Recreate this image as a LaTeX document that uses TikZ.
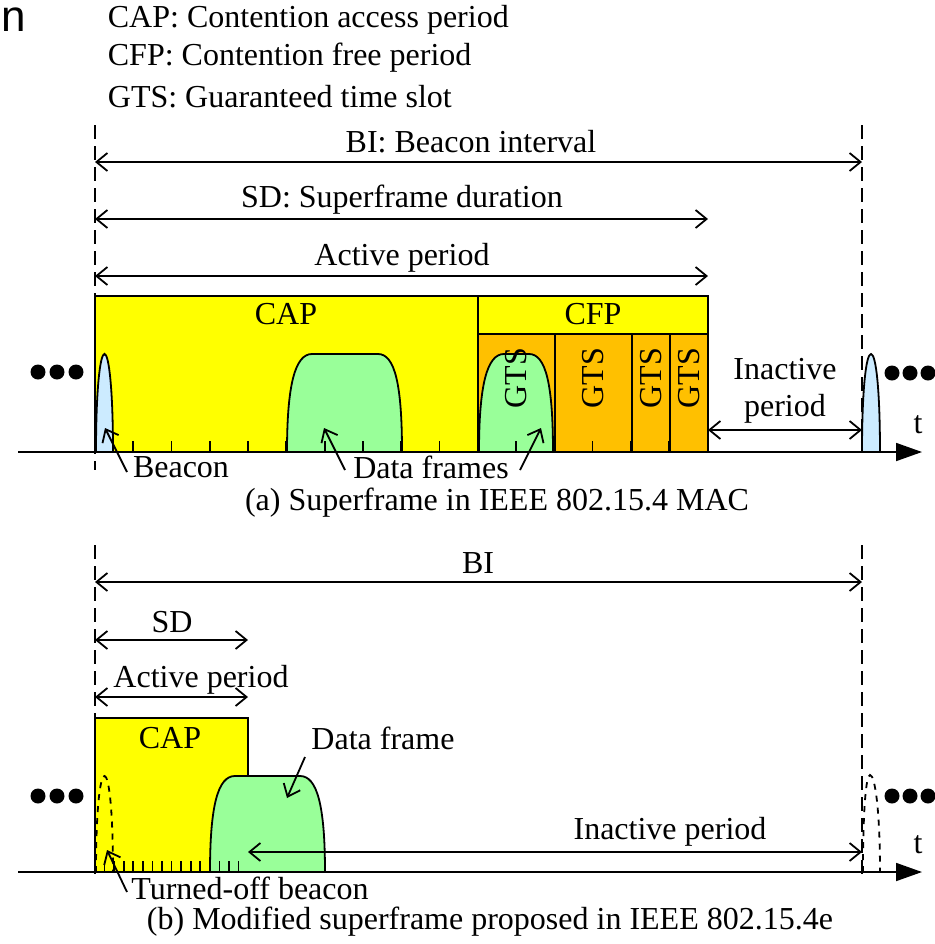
\documentclass[tikz,border=0pt]{standalone}
\usepackage{fontspec}
\setmainfont{Liberation Serif}
\newfontfamily\sansfont{Liberation Sans}
\usetikzlibrary{arrows.meta}

\definecolor{capyellow}{HTML}{FFFF00}
\definecolor{gtsorange}{HTML}{FFC000}
\definecolor{framegreen}{HTML}{99FF99}
\definecolor{beaconblue}{HTML}{CCEBFF}

\tikzset{
  span/.style={{Straight Barb[length=5.5pt,width=9pt]}-{Straight Barb[length=5.5pt,width=9pt]}},
  pointer/.style={-{Straight Barb[length=5.5pt,width=9pt]}},
  timeaxis/.style={-{Triangle[length=13pt,width=9pt]}},
  marker/.style={dash pattern=on 7pt off 3.5pt},
  lbl/.style={inner sep=0pt},
  dot/.style={circle, fill=black, inner sep=0pt, minimum size=7.5pt},
}

\begin{document}
\begin{tikzpicture}[x=0.5pt, y=-0.5pt, font=\fontsize{16}{18.5}\selectfont, line width=0.9pt]
\useasboundingbox (0,0) rectangle (935,944);

% stray letter and definitions
\node[lbl, anchor=west, font=\sansfont\fontsize{22}{24}\selectfont] (stray) at (1,20) {n};
\node[lbl, anchor=west] (defcap) at (107,20) {CAP: Contention access period};
\node[lbl, anchor=west] (defcfp) at (107,58) {CFP: Contention free period};
\node[lbl, anchor=west] (defgts) at (107,97) {GTS: Guaranteed time slot};

%%%%%%%%%% (a) %%%%%%%%%%
% period bars
\coordinate (bistart) at (95,162);   \coordinate (biend) at (862,162);
\coordinate (sdstart) at (95,219);   \coordinate (sdend) at (708,219);
\coordinate (apstart) at (95,276);   \coordinate (apend) at (708,276);
\draw[span] (bistart) -- (biend);
\draw[span] (sdstart) -- (sdend);
\draw[span] (apstart) -- (apend);
\node[lbl] (bilbl) at (471,142) {BI: Beacon interval};
\node[lbl] (sdlbl) at (402,200) {SD: Superframe duration};
\node[lbl] (aplbl) at (402,258) {Active period};

% superframe blocks
\draw[fill=capyellow] (95,296) rectangle (478,452);
\draw[fill=capyellow] (478,296) rectangle (708,334);
\draw[fill=gtsorange] (478,334) rectangle (555,452);
\draw[fill=gtsorange] (555,334) rectangle (632,452);
\draw[fill=gtsorange] (632,334) rectangle (670,452);
\draw[fill=gtsorange] (670,334) rectangle (708,452);
\node[lbl] (caplbl) at (286,314) {CAP};
\node[lbl] (cfplbl) at (593,314) {CFP};

% frames
\draw[fill=framegreen] (287,452) .. controls (287,385) and (295,354) .. (312,354) -- (378,354)
  .. controls (395,354) and (402,385) .. (402,452);
\draw[fill=framegreen] (479,452) .. controls (479,385) and (487,354) .. (504,354) -- (529,354)
  .. controls (546,354) and (553,385) .. (553,452);
\draw[fill=beaconblue] (96,452) .. controls (96,390) and (100,354) .. (104.5,354)
  .. controls (109,354) and (113,390) .. (113,452);
\draw[fill=beaconblue] (862,452) .. controls (862,390) and (866,354) .. (871,354)
  .. controls (876,354) and (880,390) .. (880,452);

\foreach \x/\n in {516/1, 593/2, 651/3, 689/4}
  \node[lbl, rotate=90] (gts\n) at (\x,378) {GTS};

% slot ticks
\foreach \k in {1,...,15}
  \draw (95+38.27*\k,452) -- ++(0,-11);

% boundaries
\coordinate (atopl) at (95,125);  \coordinate (abotl) at (95,470);
\coordinate (atopr) at (862,125); \coordinate (abotr) at (862,452);
\draw[marker] (atopl) -- (abotl);
\draw[marker] (atopr) -- (abotr);

% time axis
\coordinate (aaxs) at (18,452); \coordinate (aaxe) at (922,452);
\draw[timeaxis] (aaxs) -- (aaxe);
\node[lbl] (ta) at (918,425) {t};

% inactive
\coordinate (iastart) at (708,430); \coordinate (iaend) at (862,430);
\draw[span] (iastart) -- (iaend);
\node[lbl, align=center] (ialbl) at (785,391) {Inactive\\period};

% dots
\foreach \x/\n in {38/1, 57/2, 76/3} \node[dot] (dal\n) at (\x,372) {};
\foreach \x/\n in {892/1, 910/2, 928/3} \node[dot] (dar\n) at (\x,373) {};

% annotations
\node[lbl] (bcnlbl) at (181,467) {Beacon};
\node[lbl] (dflbl) at (431,467) {Data frames};
\coordinate (bcnfoot) at (127,472); \coordinate (bcntip) at (105,428);
\coordinate (dffoot1) at (345,470); \coordinate (dftip1) at (324,428);
\coordinate (dffoot2) at (520,470); \coordinate (dftip2) at (541,428);
\draw[pointer] (bcnfoot) -- (bcntip);
\draw[pointer] (dffoot1) -- (dftip1);
\draw[pointer] (dffoot2) -- (dftip2);

\node[lbl] (capta) at (497,503) {(a) Superframe in IEEE 802.15.4 MAC};

%%%%%%%%%% (b) %%%%%%%%%%
\coordinate (bistartb) at (95,582);  \coordinate (biendb) at (862,582);
\coordinate (sdstartb) at (95,640);  \coordinate (sdendb) at (248,640);
\coordinate (apstartb) at (95,697);  \coordinate (apendb) at (248,697);
\draw[span] (bistartb) -- (biendb);
\draw[span] (sdstartb) -- (sdendb);
\draw[span] (apstartb) -- (apendb);
\node[lbl] (bilblb) at (478,563) {BI};
\node[lbl] (sdlblb) at (172,622) {SD};
\node[lbl] (aplblb) at (201,680) {Active period};

\draw[fill=capyellow] (95,718) rectangle (248,872);
\node[lbl] (caplblb) at (170,738) {CAP};
\draw[fill=framegreen] (210,872) .. controls (210,805) and (218,776) .. (235,776) -- (300,776)
  .. controls (317,776) and (325,805) .. (325,872);
\draw[dashed] (96,872) .. controls (96,810) and (100,776) .. (104.5,776)
  .. controls (109,776) and (113,810) .. (113,872);
\draw[dashed] (863,872) .. controls (863,810) and (866,775) .. (870,775)
  .. controls (875,775) and (880,810) .. (880,872);

\foreach \k in {1,...,15}
  \draw (95+9.57*\k,872) -- ++(0,-11);

\coordinate (btopl) at (95,545);  \coordinate (botl) at (95,875);
\coordinate (btopr) at (862,545); \coordinate (botr) at (862,875);
\draw[marker] (btopl) -- (botl);
\draw[marker] (btopr) -- (botr);

\coordinate (baxs) at (18,872); \coordinate (baxe) at (922,872);
\draw[timeaxis] (baxs) -- (baxe);
\node[lbl] (tb) at (918,845) {t};

\coordinate (ibstart) at (248,852); \coordinate (ibend) at (862,852);
\draw[span] (ibstart) -- (ibend);
\node[lbl] (iblbl) at (670,832) {Inactive period};

\foreach \x/\n in {38/1, 57/2, 76/3} \node[dot] (dbl\n) at (\x,796) {};
\foreach \x/\n in {892/1, 910/2, 928/3} \node[dot] (dbr\n) at (\x,796) {};

\node[lbl] (dflblb) at (383,738) {Data frame};
\coordinate (dffootb) at (305,757); \coordinate (dftipb) at (287,798);
\draw[pointer] (dffootb) -- (dftipb);
\node[lbl] (toblbl) at (250,888) {Turned-off beacon};
\coordinate (tobfoot) at (127,892); \coordinate (tobtip) at (107,850);
\draw[pointer] (tobfoot) -- (tobtip);

\node[lbl] (captb) at (490,922) {(b) Modified superframe proposed in IEEE 802.15.4e};

\end{tikzpicture}
\end{document}
